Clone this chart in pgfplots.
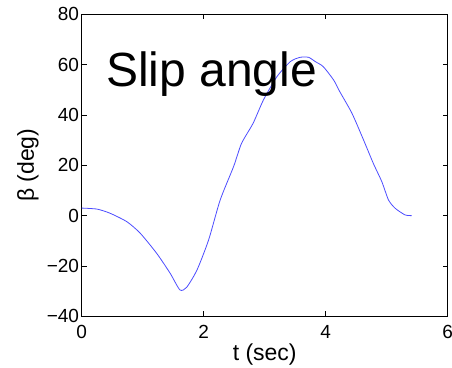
\documentclass[border=0pt]{standalone}
\usepackage{pgfplots}
\pgfplotsset{compat=1.18}
\usepackage{fontspec}
\setmainfont{Liberation Sans}
\definecolor{mblue}{rgb}{0.30,0.30,1.0}
\begin{document}
\begin{tikzpicture}
\begin{axis}[
scale only axis,
width=366pt,
height=302pt,
xmin=0, xmax=6,
ymin=-40, ymax=80,
xtick={0,2,4,6},
ytick={-40,-20,0,20,40,60,80},
yticklabels={−40,−20,0,20,40,60,80},
tick align=inside,
major tick length=5pt,
tick style={black, line width=0.5pt},
axis line style={black, line width=0.6pt},
ticklabel style={font=\fontsize{19}{19}\selectfont},
/pgf/number format/assume math mode=true,
xticklabel style={inner sep=0pt, yshift=-8.5pt},
yticklabel style={inner sep=2.5pt},
xlabel={t (sec)},
ylabel={β (deg)},
label style={font=\fontsize{23}{23}\selectfont},
xlabel style={at={([yshift=-38.7pt]axis description cs:0.5,0)}, anchor=center},
ylabel style={at={([xshift=-53.7pt]axis description cs:0,0.5)}, anchor=center},
]
\addplot[color=mblue, line width=0.8pt, smooth, tension=0.4] coordinates {
(0.00,3.0) (0.25,2.6) (0.46,1.0) (0.74,-2.4) (0.96,-7.0) (1.23,-15.0)
(1.45,-22.9) (1.61,-29.5) (1.72,-28.5) (1.89,-21.6) (2.08,-9.7)
(2.27,6.2) (2.49,19.5) (2.62,28.7) (2.81,36.7) (2.98,46.0) (3.20,55.2)
(3.42,61.2) (3.58,62.9) (3.72,62.9) (3.83,61.2) (3.96,59.2) (4.13,53.9)
(4.23,49.3) (4.43,40.7) (4.62,30.1) (4.78,20.8) (4.92,13.5) (5.03,6.2)
(5.14,2.9) (5.30,0.3) (5.41,0.0)
};
\node[anchor=base west, font=\fontsize{48}{48}\selectfont, inner sep=0pt] at (axis cs:0.40,51.5) {Slip angle};
\end{axis}
\pgfresetboundingbox
\path (-81.7pt,-50.7pt) rectangle (370.3pt,316.3pt);
\end{tikzpicture}
\end{document}
